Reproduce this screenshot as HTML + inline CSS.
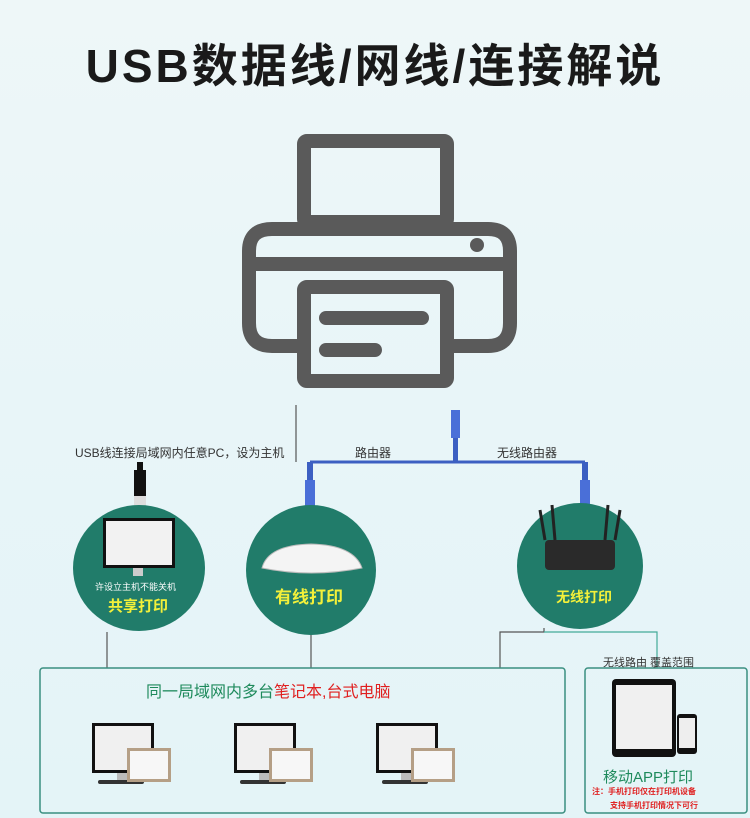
<!DOCTYPE html>
<html><head><meta charset="utf-8"><style>
html,body{margin:0;padding:0}
body{width:750px;height:818px;overflow:hidden;background:linear-gradient(180deg,#eef7f8 0%,#e8f5f8 50%,#e4f4f7 100%);font-family:"Liberation Sans","Noto Sans CJK SC",sans-serif;position:relative}
.t{position:absolute;white-space:nowrap}
</style></head><body>
<div class="t" style="left:0;width:750px;top:30px;text-align:center;font-size:46px;font-weight:bold;color:#1a1a1a;letter-spacing:3px">USB数据线/网线/连接解说</div>
<svg width="750" height="818" style="position:absolute;left:0;top:0">
<g fill="none" stroke="#5a5a5a" stroke-width="14" stroke-linejoin="round" stroke-linecap="round">
<rect x="304" y="141" width="143" height="81" rx="3"/>
<path d="M304 346 H272 Q249 346 249 323 V251 Q249 229 272 229 H488 Q510 229 510 251 V323 Q510 346 488 346 H447"/>
<line x1="252" y1="264" x2="507" y2="264"/>
<rect x="304" y="287" width="143" height="94" rx="3"/>
<line x1="326" y1="318" x2="422" y2="318"/>
<line x1="326" y1="350" x2="375" y2="350"/>
</g>
<circle cx="477" cy="245" r="7" fill="#5a5a5a"/>
<g stroke="#555" stroke-width="1.2" fill="none">
<polyline points="296,405 296,462"/>
<polyline points="310,462 585,462" stroke="#3c5fc2" stroke-width="3"/>
<polyline points="107,632 107,668"/>
<polyline points="311,634 311,668"/>
<polyline points="544,628 544,632 500,632 500,668"/>
<polyline points="544,632 657,632 657,668" stroke="#4a9"/>
</g>
<rect x="40" y="668" width="525" height="145" rx="3" fill="none" stroke="#3a8f80" stroke-width="1.5"/>
<rect x="585" y="668" width="162" height="145" rx="3" fill="none" stroke="#3a8f80" stroke-width="1.5"/>
<rect x="453" y="410" width="5" height="52" fill="#3c5fc2"/>
<rect x="451" y="410" width="9" height="28" fill="#4a6fd8"/>
<rect x="307" y="462" width="6" height="20" fill="#3c5fc2"/><rect x="305" y="480" width="10" height="28" fill="#4a6fd8"/>
<rect x="582" y="462" width="6" height="20" fill="#3c5fc2"/><rect x="580" y="480" width="10" height="28" fill="#4a6fd8"/>
<rect x="137" y="462" width="6" height="10" fill="#111"/><rect x="134" y="470" width="12" height="26" fill="#111"/><rect x="134" y="496" width="12" height="20" fill="#ddd"/>
<ellipse cx="139" cy="568" rx="66" ry="63" fill="#217c6a"/>
<ellipse cx="311" cy="570" rx="65" ry="65" fill="#217c6a"/>
<ellipse cx="580" cy="566" rx="63" ry="63" fill="#217c6a"/>
<rect x="103" y="518" width="72" height="50" fill="#111"/><rect x="106" y="521" width="66" height="44" fill="#f2f2f2"/><rect x="133" y="568" width="10" height="8" fill="#ccc"/>
<path d="M262 568 Q268 545 311 544 Q354 545 362 568 Q311 578 262 568Z" fill="#f4f4f4" stroke="#bbb"/>
<rect x="545" y="540" width="70" height="30" rx="4" fill="#2a2a2a"/>
<g stroke="#222" stroke-width="3"><line x1="545" y1="540" x2="540" y2="510"/><line x1="555" y1="540" x2="552" y2="505"/><line x1="605" y1="540" x2="608" y2="505"/><line x1="615" y1="540" x2="620" y2="510"/></g>
<g id="pc">
<rect x="92" y="723" width="62" height="50" fill="#111"/><rect x="95" y="726" width="56" height="44" fill="#f0f0f0"/>
<rect x="117" y="773" width="10" height="8" fill="#bbb"/><rect x="98" y="780" width="46" height="4" rx="2" fill="#333"/>
<rect x="127" y="748" width="44" height="34" fill="#b59f86"/><rect x="130" y="751" width="38" height="28" fill="#f7f7f7"/>
</g>
<use href="#pc" x="142"/><use href="#pc" x="284"/>
<rect x="612" y="679" width="64" height="78" rx="4" fill="#111"/><rect x="616" y="685" width="56" height="64" fill="#f0f0f0"/>
<rect x="677" y="714" width="20" height="40" rx="3" fill="#111"/><rect x="679" y="718" width="16" height="30" fill="#eee"/>
</svg>
<div class="t" style="left:75px;top:444px;font-size:12px;color:#333">USB线连接局域网内任意PC，设为主机</div>
<div class="t" style="left:355px;top:444px;font-size:12px;color:#333">路由器</div>
<div class="t" style="left:497px;top:444px;font-size:12px;color:#333">无线路由器</div>
<div class="t" style="left:95px;top:580px;font-size:9px;color:#fff">许设立主机不能关机</div>
<div class="t" style="left:108px;top:595px;font-size:15px;font-weight:bold;color:#f3f03a">共享打印</div>
<div class="t" style="left:275px;top:583px;font-size:17px;font-weight:bold;color:#f3f03a">有线打印</div>
<div class="t" style="left:556px;top:587px;font-size:14px;font-weight:bold;color:#f3f03a">无线打印</div>
<div class="t" style="left:603px;top:654px;font-size:11px;color:#333">无线路由 覆盖范围</div>
<div class="t" style="left:146px;top:678px;font-size:16px;color:#1e8a5c">同一局域网内多台<span style="color:#e02020">笔记本,台式电脑</span></div>
<div class="t" style="left:603px;top:766px;font-size:15px;color:#1e8a5c">移动APP打印</div>
<div class="t" style="left:592px;top:786px;font-size:8px;font-weight:bold;color:#e02020">注：手机打印仅在打印机设备</div>
<div class="t" style="left:610px;top:800px;font-size:8px;font-weight:bold;color:#e02020">支持手机打印情况下可行</div>
</body></html>
